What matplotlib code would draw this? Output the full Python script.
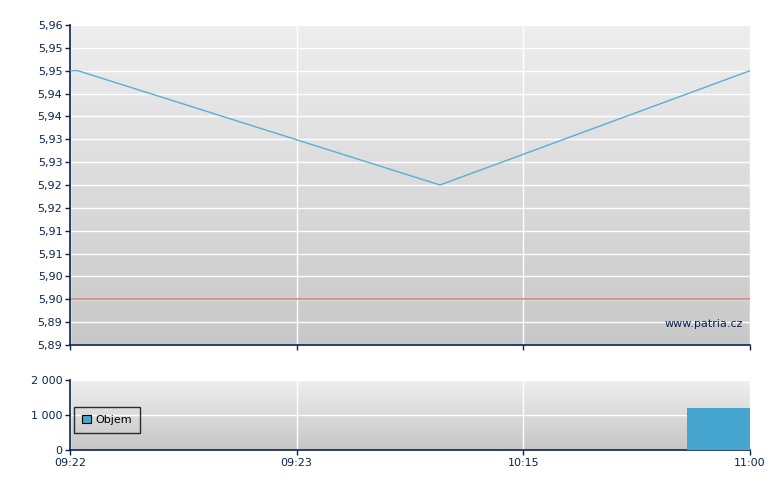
import numpy as np
import matplotlib
matplotlib.use("Agg")
import matplotlib.pyplot as plt

# ---- data ----
x_ticks = [0, 1, 2, 3]
x_labels = ["09:22", "09:23", "10:15", "11:00"]
price_x = [0.0, 0.035, 1.632, 3.0]
price_y = [5.95, 5.95, 5.925, 5.95]
ref_price = 5.90
price_ticks = [5.96, 5.955, 5.95, 5.945, 5.94, 5.935, 5.93, 5.925, 5.92,
               5.915, 5.91, 5.905, 5.90, 5.895, 5.89]
price_tick_labels = ["5,96", "5,95", "5,95", "5,94", "5,94", "5,93", "5,93",
                     "5,92", "5,92", "5,91", "5,91", "5,90", "5,90", "5,89", "5,89"]
vol_x_start = [2.72]
vol_x_end = [3.0]
vol_values = [1210]
vol_ticks = [0, 1000, 2000]
vol_tick_labels = ["0", "1 000", "2 000"]

navy = "#0a2352"
line_col = "#5aaed6"
bar_col = "#46a6cf"

fig = plt.figure(figsize=(7.8, 4.9), dpi=100)
W, H = 780, 490

def axes_px(l, t, r, b):
    return fig.add_axes([l / W, 1 - b / H, (r - l) / W, (b - t) / H])

ax1 = axes_px(70, 25, 750, 345)
ax2 = axes_px(70, 380, 750, 450)

def gradient(ax, top, bottom):
    c1 = np.array(matplotlib.colors.to_rgb(top))
    c2 = np.array(matplotlib.colors.to_rgb(bottom))
    t = np.linspace(0, 1, 256)[:, None]
    img = (c1 * (1 - t) + c2 * t)[:, None, :]
    ax.imshow(img, extent=[0, 1, 0, 1], transform=ax.transAxes, aspect="auto",
              zorder=-10, origin="upper")

for ax in (ax1, ax2):
    ax.set_xlim(0, 3)
    for s in ("top", "right"):
        ax.spines[s].set_visible(False)
    for s in ("left", "bottom"):
        ax.spines[s].set_color(navy)
        ax.spines[s].set_linewidth(1.2)
    ax.tick_params(colors=navy, labelcolor=navy, length=3.5, width=1,
                   labelsize=8, direction="out", pad=2)
    ax.set_xticks(x_ticks)
    ax.grid(True, color="white", linewidth=1.0, zorder=0)
    ax.set_axisbelow(True)

gradient(ax1, "#eeeeee", "#c8c8c8")
gradient(ax2, "#efefef", "#c6c6c6")

# upper price chart
ax1.set_ylim(5.89, 5.96)
ax1.set_yticks(price_ticks)
ax1.set_yticklabels(price_tick_labels)
ax1.set_xticklabels([])
ax1.plot(price_x, price_y, color=line_col, linewidth=1.0, zorder=3)
ax1.axhline(ref_price, color="#d98282", linewidth=1.2, zorder=2)
ax1.text(0.99, 0.065, "www.patria.cz", transform=ax1.transAxes, ha="right",
         va="center", fontsize=8, color=navy)

# lower volume chart
ax2.set_ylim(0, 2000)
ax2.set_yticks(vol_ticks)
ax2.set_yticklabels(vol_tick_labels)
ax2.set_xticklabels(x_labels)
for xs, xe, v in zip(vol_x_start, vol_x_end, vol_values):
    ax2.bar(xs, v, width=xe - xs, align="edge", color=bar_col, zorder=3,
            label="Objem")
leg = ax2.legend(loc="center left", bbox_to_anchor=(0.0, 0.43), fontsize=8,
                 frameon=True, fancybox=False, handlelength=0.8,
                 handleheight=0.8, borderpad=0.75, handletextpad=0.35,
                 borderaxespad=0.35)
leg.get_frame().set_edgecolor("#000000")
leg.get_frame().set_facecolor("none")
leg.get_frame().set_linewidth(1.0)
for t in leg.get_texts():
    t.set_color("#000000")
for h in leg.legend_handles:
    h.set_edgecolor("#000000")
    h.set_linewidth(0.8)

fig.savefig("out.png", dpi=100)
